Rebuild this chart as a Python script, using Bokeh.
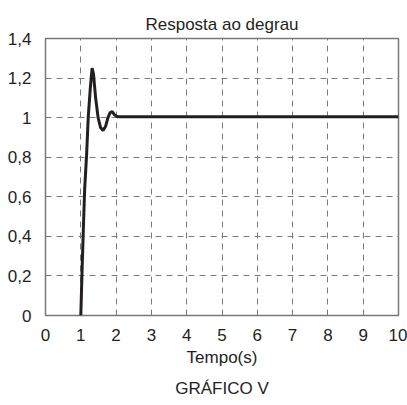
from bokeh.plotting import figure
from bokeh.models import Range1d, FixedTicker, CustomJSTickFormatter, Title
from bokeh.embed import file_html
from bokeh.resources import INLINE

# data
tempo = [1.0, 1.04, 1.08, 1.11, 1.165, 1.21, 1.27, 1.32, 1.36, 1.42, 1.49, 1.56,
         1.63, 1.70, 1.77, 1.83, 1.89, 1.95, 2.04, 3.0, 5.0, 7.0, 10.0]
resposta = [0.0, 0.25, 0.48, 0.64, 0.815, 1.0, 1.15, 1.25, 1.22, 1.10, 1.0, 0.95,
            0.935, 0.955, 1.0, 1.025, 1.03, 1.015, 1.005, 1.005, 1.005, 1.005, 1.005]
x_ticks = [0, 1, 2, 3, 4, 5, 6, 7, 8, 9, 10]
y_ticks = [0, 0.2, 0.4, 0.6, 0.8, 1.0, 1.2, 1.4]

FONT = "Liberation Sans"
FS = "17px"
TXT = "#231f20"

p = figure(width=407, height=405, output_backend="svg", toolbar_location=None,
           x_range=Range1d(0, 10), y_range=Range1d(0, 1.4),
           min_border_left=45, min_border_right=9, min_border_top=38, min_border_bottom=89)

p.title.text = "Resposta ao degrau"
p.title.align = "center"
p.title.text_font = FONT
p.title.text_font_size = FS
p.title.text_font_style = "normal"
p.title.text_color = TXT
p.title.standoff = 9

p.line(tempo, resposta, line_color=TXT, line_width=3)

p.xaxis.ticker = FixedTicker(ticks=x_ticks)
p.yaxis.ticker = FixedTicker(ticks=y_ticks)
p.yaxis.formatter = CustomJSTickFormatter(code="return String(Math.round(tick*10)/10).replace('.', ',');")

for ax in (p.xaxis, p.yaxis):
    ax.axis_line_color = None
    ax.major_tick_line_color = None
    ax.minor_tick_line_color = None
    ax.major_label_text_font = FONT
    ax.major_label_text_font_size = FS
    ax.major_label_text_color = TXT
    ax.axis_label_text_font = FONT
    ax.axis_label_text_font_size = FS
    ax.axis_label_text_font_style = "normal"
    ax.axis_label_text_color = TXT

p.xaxis.major_label_standoff = 7
p.yaxis.major_label_standoff = 8
p.xaxis.axis_label = "Tempo(s)"
p.xaxis.axis_label_standoff = 4

p.xgrid.grid_line_color = "#7a7a7a"
p.ygrid.grid_line_color = "#7a7a7a"
p.xgrid.grid_line_dash = "6 5"
p.ygrid.grid_line_dash = "6 5"
p.xgrid.grid_line_width = 1
p.ygrid.grid_line_width = 1

p.outline_line_color = "#777777"
p.outline_line_width = 1.5

sub = Title(text="GRÁFICO V", align="center", text_font=FONT, text_font_size=FS,
            text_font_style="normal", text_color=TXT, standoff=15)
p.add_layout(sub, "below")

open("out.html", "w").write(file_html(p, INLINE))
